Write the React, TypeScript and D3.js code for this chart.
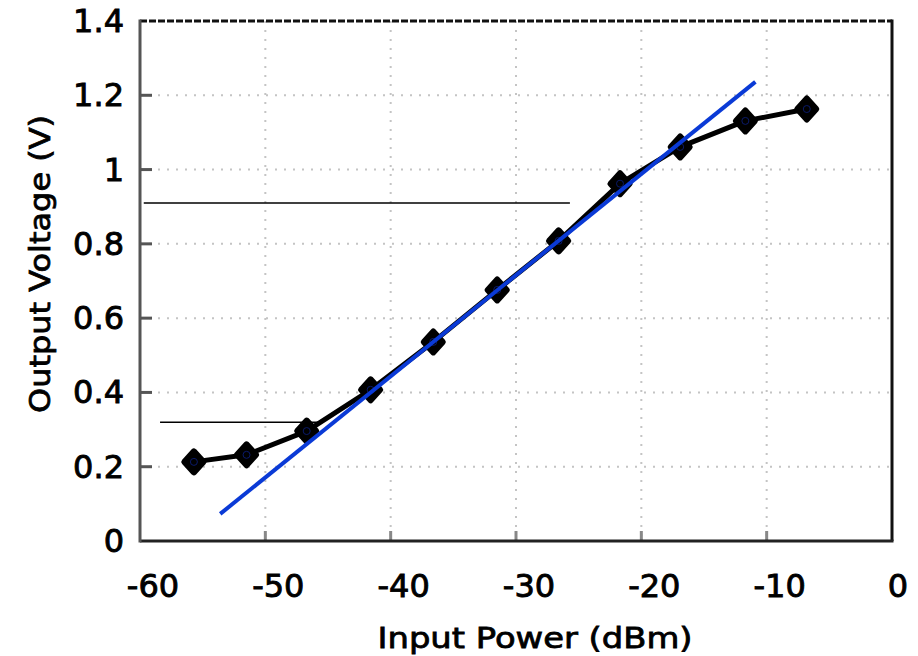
import React, { useEffect, useRef } from "react";
import * as d3 from "d3";

// measured points (input power dBm, output voltage V)
const powerDbm = [-55.7, -51.5, -46.7, -41.6, -36.6, -31.5, -26.6, -21.7, -16.9, -11.7, -6.8];
const outputV = [0.213, 0.232, 0.296, 0.407, 0.536, 0.676, 0.808, 0.962, 1.061, 1.131, 1.163];

// linear fit line (blue), endpoints
const fitX = [-53.6, -10.9];
const fitY = [0.073, 1.236];

// horizontal reference lines
const refLevels = [0.91, 0.32];
const refStart = [-59.7, -58.4];
const refEnd = [-25.7, -45.5];

const xTicks = [-60, -50, -40, -30, -20, -10, 0];
const yTicks = [0, 0.2, 0.4, 0.6, 0.8, 1, 1.2, 1.4];

const App = () => {
  const ref = useRef<SVGSVGElement>(null);

  useEffect(() => {
    document.body.style.margin = "0";
    const w = 918;
    const h = 656;
    const m = { left: 140, right: 26, top: 21, bottom: 115 };
    const svg = d3.select(ref.current).attr("width", w).attr("height", h);
    svg.selectAll("*").remove();

    const x = d3.scaleLinear().domain([-60, 0]).range([m.left, w - m.right]);
    const y = d3.scaleLinear().domain([0, 1.4]).range([h - m.bottom, m.top]);
    const font = "DejaVu Sans, Verdana, sans-serif";

    // grid
    const grid = svg.append("g").attr("stroke", "#c4c4c4").attr("stroke-width", 2).attr("stroke-dasharray", "2,7");
    grid.selectAll(".vx").data(xTicks.slice(1, -1)).join("line")
      .attr("x1", d => x(d)).attr("x2", d => x(d))
      .attr("y1", y(1.4)).attr("y2", y(0));
    grid.selectAll(".hy").data(yTicks.slice(1, -1)).join("line")
      .attr("y1", d => y(d)).attr("y2", d => y(d))
      .attr("x1", x(-60)).attr("x2", x(0));

    // ticks (inward)
    svg.append("g").selectAll("line").data(yTicks.slice(1, -1)).join("line")
      .attr("x1", x(-60)).attr("x2", x(-60) + 12)
      .attr("y1", d => y(d)).attr("y2", d => y(d))
      .attr("stroke", "#555").attr("stroke-width", 3);
    svg.append("g").selectAll("line").data(xTicks.slice(1, -1)).join("line")
      .attr("x1", d => x(d)).attr("x2", d => x(d))
      .attr("y1", y(0)).attr("y2", y(0) - 10)
      .attr("stroke", "#888").attr("stroke-width", 3);

    // frame
    svg.append("line").attr("x1", x(-60)).attr("x2", x(0)).attr("y1", y(1.4)).attr("y2", y(1.4))
      .attr("stroke", "#111").attr("stroke-width", 3).attr("stroke-dasharray", "7,2");
    svg.append("line").attr("x1", x(0)).attr("x2", x(0)).attr("y1", y(1.4) - 1.5).attr("y2", y(0))
      .attr("stroke", "#111").attr("stroke-width", 3);
    svg.append("line").attr("x1", x(-60)).attr("x2", x(0) + 1.5).attr("y1", y(0)).attr("y2", y(0))
      .attr("stroke", "#222").attr("stroke-width", 3);
    svg.append("line").attr("x1", x(-60)).attr("x2", x(-60)).attr("y1", y(1.4) - 1.5).attr("y2", y(0) + 1.5)
      .attr("stroke", "#555").attr("stroke-width", 3);

    // tick labels
    svg.append("g").selectAll("text").data(yTicks).join("text")
      .attr("x", 124).attr("y", d => y(d) + 11)
      .attr("text-anchor", "end")
      .attr("font-family", font).attr("font-size", 32)
      .attr("stroke", "#000").attr("stroke-width", 0.9)
      .text(d => String(d));
    svg.append("g").selectAll("text").data(xTicks).join("text")
      .attr("x", d => x(d) + (d === 0 ? 6 : 13)).attr("y", 597)
      .attr("text-anchor", "middle")
      .attr("font-family", font).attr("font-size", 32)
      .attr("stroke", "#000").attr("stroke-width", 0.9)
      .text(d => String(d));

    // axis titles
    svg.append("text").attr("x", 535).attr("y", 648)
      .attr("text-anchor", "middle").attr("font-family", font).attr("font-size", 29)
      .attr("stroke", "#000").attr("stroke-width", 0.8)
      .attr("textLength", 315).attr("lengthAdjust", "spacingAndGlyphs")
      .text("Input Power (dBm)");
    svg.append("text").attr("transform", "translate(50,264) rotate(-90)")
      .attr("text-anchor", "middle").attr("font-family", font).attr("font-size", 29)
      .attr("stroke", "#000").attr("stroke-width", 0.8)
      .attr("textLength", 298).attr("lengthAdjust", "spacingAndGlyphs")
      .text("Output Voltage (V)");

    // reference lines
    svg.append("g").selectAll("line").data(refLevels).join("line")
      .attr("x1", (d, i) => x(refStart[i])).attr("x2", (d, i) => x(refEnd[i]))
      .attr("y1", d => y(d)).attr("y2", d => y(d))
      .attr("stroke", "#000").attr("stroke-width", 1.5);

    // data line + markers
    const pts = powerDbm.map((p, i) => [p, outputV[i]] as [number, number]);
    const line = d3.line<[number, number]>().x(d => x(d[0])).y(d => y(d[1]));
    svg.append("path").datum(pts).attr("d", line)
      .attr("fill", "none").attr("stroke", "#000").attr("stroke-width", 5).attr("stroke-linejoin", "round");
    svg.append("g").selectAll("path").data(pts).join("path")
      .attr("transform", d => `translate(${x(d[0])},${y(d[1])})`)
      .attr("d", "M0,-10.5 L9.5,0 L0,10.5 L-9.5,0 Z")
      .attr("fill", "#000").attr("stroke", "#000").attr("stroke-width", 6).attr("stroke-linejoin", "round");
    svg.append("g").selectAll("circle").data(pts).join("circle")
      .attr("cx", d => x(d[0])).attr("cy", d => y(d[1])).attr("r", 3.5)
      .attr("fill", "none").attr("stroke", "#0a1a6a").attr("stroke-width", 1);

    // fit line
    svg.append("line")
      .attr("x1", x(fitX[0])).attr("y1", y(fitY[0]))
      .attr("x2", x(fitX[1])).attr("y2", y(fitY[1]))
      .attr("stroke", "#0a3ad6").attr("stroke-width", 4);
  }, []);

  return <svg ref={ref}></svg>;
};

export default App;
